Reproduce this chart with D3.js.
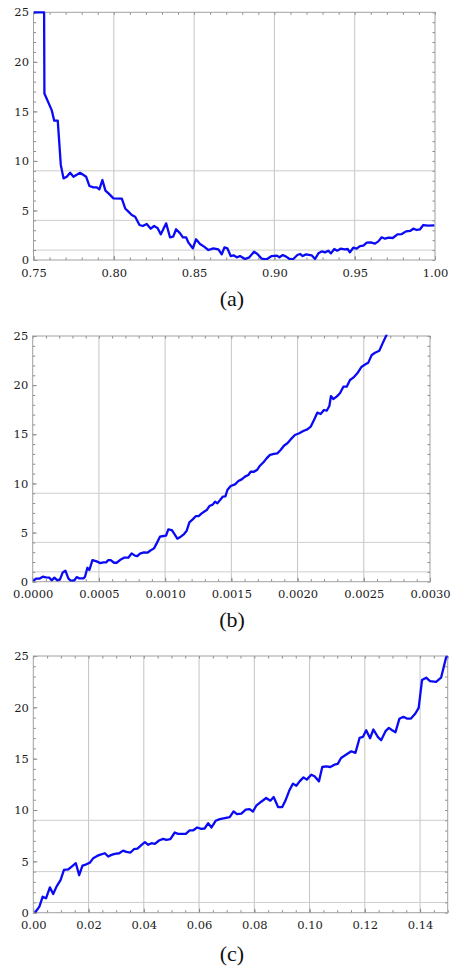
<!DOCTYPE html>
<html>
<head>
<meta charset="utf-8">
<script src="https://cdn.jsdelivr.net/npm/d3@7"></script>
<style>
	body { margin: 0; background: #fff; }
	.tick line { stroke: #8a8a8a; }
</style>
</head>
<body>
<div id="chart"></div>
<script>
// shared y axis values and reference lines
var yTicks = [0, 5, 10, 15, 20, 25];
var refLines = [1, 4, 9];
var tickFont = "'DejaVu Serif', serif";
var capFont = "'Liberation Serif', serif";

// panel (a)
var xTicksA = [0.75, 0.80, 0.85, 0.90, 0.95, 1.00];
var seriesA = [
	[0.7500, 25], [0.7566, 25], [0.7568, 16.8], [0.7614, 15.1], [0.7629, 14.06], [0.7651, 14.06],
	[0.7670, 9.6], [0.7687, 8.24], [0.7707, 8.4], [0.7728, 8.8], [0.7749, 8.4], [0.7790, 8.8],
	[0.7828, 8.4], [0.7848, 7.47], [0.7873, 7.33], [0.7894, 7.33], [0.7910, 7.13], [0.7929, 8.07],
	[0.7948, 7.0], [0.7967, 6.73], [0.7998, 6.22], [0.8050, 6.19], [0.8071, 5.2], [0.8091, 4.88],
	[0.8112, 4.54], [0.8133, 4.37], [0.8160, 3.53], [0.8180, 3.43], [0.8205, 3.63], [0.8230, 3.16],
	[0.8251, 3.43], [0.8272, 3.23], [0.8293, 2.59], [0.8326, 3.7], [0.8350, 2.29], [0.8370, 2.36],
	[0.8388, 3.1], [0.8413, 2.69], [0.8430, 2.29], [0.8450, 2.29], [0.8465, 1.75], [0.8492, 1.18],
	[0.8512, 2.09], [0.8537, 1.62], [0.8562, 1.35], [0.8589, 1.01], [0.8620, 1.18], [0.8651, 1.08],
	[0.8672, 0.57], [0.8689, 1.28], [0.8707, 1.18], [0.8728, 0.4], [0.8745, 0.47], [0.8766, 0.27],
	[0.8786, 0.4], [0.8817, 0.1], [0.8844, 0.27], [0.8873, 0.84], [0.8894, 0.61], [0.8921, 0.13],
	[0.8952, 0.07], [0.8983, 0.4], [0.9015, 0.44], [0.9031, 0.27], [0.9052, 0.5], [0.9073, 0.34],
	[0.9097, 0.07], [0.9118, 0.1], [0.9143, 0.5], [0.9160, 0.61], [0.9176, 0.4], [0.9197, 0.57],
	[0.9232, 0.47], [0.9253, 0.1], [0.9274, 0.67], [0.9295, 0.87], [0.9315, 0.77], [0.9336, 0.94],
	[0.9352, 0.67], [0.9373, 1.11], [0.9391, 0.94], [0.9412, 1.14], [0.9439, 1.08], [0.9456, 1.11],
	[0.9470, 0.77], [0.9491, 1.24], [0.9512, 1.14], [0.9533, 1.41], [0.9554, 1.45], [0.9575, 1.75],
	[0.9599, 1.78], [0.9626, 1.65], [0.9647, 1.88], [0.9668, 2.29], [0.9689, 2.15], [0.9710, 2.25],
	[0.9737, 2.22], [0.9766, 2.59], [0.9793, 2.62], [0.9820, 2.89], [0.9845, 2.93], [0.9865, 3.16],
	[0.9886, 3.03], [0.9907, 3.1], [0.9927, 3.53], [0.9959, 3.47], [0.9996, 3.5]
];

// panel (b)
var xTicksB = [0, 0.0005, 0.0010, 0.0015, 0.0020, 0.0025, 0.0030];
var seriesB = [
	[0.000005, 0.07], [0.000025, 0.31], [0.00005, 0.31], [0.000076, 0.51], [0.0001, 0.44], [0.000126, 0.41],
	[0.000143, 0.14], [0.000164, 0.41], [0.000186, 0.14], [0.000206, 0.24], [0.000227, 0.95], [0.000247, 1.12],
	[0.000269, 0.34], [0.000287, 0.1], [0.000312, 0.1], [0.000332, 0.47], [0.000352, 0.34], [0.000383, 0.34],
	[0.000395, 0.51], [0.000413, 1.42], [0.000428, 1.19], [0.000451, 2.2], [0.000483, 2.07], [0.000508, 1.9],
	[0.000534, 1.97], [0.000554, 1.97], [0.000571, 2.2], [0.000589, 2.2], [0.000614, 1.93], [0.000634, 1.93],
	[0.000659, 2.2], [0.000689, 2.44], [0.000722, 2.44], [0.000747, 2.88], [0.000772, 2.65], [0.00079, 2.61],
	[0.00081, 2.85], [0.00084, 2.99], [0.000866, 2.95], [0.000886, 3.15], [0.000916, 3.39], [0.000936, 3.9],
	[0.000961, 4.58], [0.000987, 4.65], [0.001007, 4.68], [0.001024, 5.33], [0.00105, 5.26], [0.001067, 4.92],
	[0.001092, 4.38], [0.001118, 4.58], [0.001143, 4.85], [0.001163, 5.19], [0.001183, 6.04], [0.001208, 6.34],
	[0.001233, 6.68], [0.001253, 6.68], [0.001276, 6.95], [0.001294, 7.12], [0.001314, 7.29], [0.001334, 7.7],
	[0.001359, 7.84], [0.001377, 8.14], [0.001394, 7.97], [0.001415, 8.31], [0.001435, 8.65], [0.001455, 8.68],
	[0.00147, 9.33], [0.001495, 9.74], [0.001528, 9.9], [0.001553, 10.24], [0.001578, 10.41], [0.001603, 10.69],
	[0.001628, 10.86], [0.001646, 11.19], [0.001671, 11.19], [0.001696, 11.4], [0.001716, 11.8], [0.001746, 12.21],
	[0.001766, 12.55], [0.001792, 12.9], [0.001822, 13.0], [0.001847, 13.06], [0.001872, 13.4], [0.001897, 13.84],
	[0.001923, 14.08], [0.001948, 14.48], [0.00198, 14.93], [0.002013, 15.1], [0.002043, 15.33], [0.002074, 15.5],
	[0.002099, 15.77], [0.002124, 16.45], [0.002149, 17.2], [0.002174, 17.06], [0.002199, 17.47], [0.00222, 17.4],
	[0.00224, 17.88], [0.002252, 18.89], [0.00227, 18.59], [0.002295, 18.83], [0.00232, 19.17], [0.002346, 19.84],
	[0.002371, 19.84], [0.002396, 20.52], [0.002421, 20.76], [0.002451, 21.2], [0.002484, 21.88], [0.002516, 22.15],
	[0.002534, 22.29], [0.00256, 23.07], [0.002585, 23.3], [0.002617, 23.5], [0.002642, 24.25], [0.002668, 25.0],
	[0.002686, 25.6]
];

// panel (c)
var xTicksC = [0, 0.02, 0.04, 0.06, 0.08, 0.10, 0.12, 0.14];
var seriesC = [
	[0.0006, 0], [0.0022, 0.59], [0.0034, 1.56], [0.0046, 1.4], [0.0060, 2.47], [0.0072, 1.82],
	[0.0084, 2.54], [0.0099, 3.19], [0.0111, 4.17], [0.0127, 4.23], [0.0139, 4.49], [0.0154, 4.82],
	[0.0166, 3.65], [0.0178, 4.59], [0.0190, 4.69], [0.0205, 4.88], [0.0217, 5.31], [0.0231, 5.53],
	[0.0243, 5.66], [0.0259, 5.79], [0.0271, 5.47], [0.0283, 5.63], [0.0295, 5.73], [0.0311, 5.79],
	[0.0325, 6.05], [0.0337, 5.92], [0.0352, 5.86], [0.0364, 6.18], [0.0377, 6.25], [0.0392, 6.61],
	[0.0404, 6.87], [0.0416, 6.61], [0.0428, 6.77], [0.0440, 6.71], [0.0455, 7.03], [0.0470, 7.19],
	[0.0482, 7.1], [0.0496, 7.16], [0.0512, 7.81], [0.0524, 7.68], [0.0540, 7.68], [0.0552, 7.68],
	[0.0566, 8.01], [0.0578, 8.01], [0.0593, 8.3], [0.0608, 8.17], [0.0620, 8.2], [0.0633, 8.72],
	[0.0645, 8.3], [0.0660, 8.95], [0.0675, 9.11], [0.0693, 9.21], [0.0711, 9.31], [0.0725, 9.86],
	[0.0737, 9.6], [0.0753, 9.64], [0.0769, 10.03], [0.0783, 10.09], [0.0795, 9.86], [0.0807, 10.42],
	[0.0825, 10.81], [0.0843, 11.17], [0.0858, 10.91], [0.0870, 11.26], [0.0886, 10.29], [0.0901, 10.29],
	[0.0913, 10.94], [0.0928, 11.98], [0.0940, 12.57], [0.0952, 12.37], [0.0964, 12.79], [0.0978, 13.18],
	[0.0990, 12.96], [0.1006, 13.44], [0.1018, 13.28], [0.1034, 12.79], [0.1046, 14.19], [0.1060, 14.26],
	[0.1075, 14.19], [0.1090, 14.42], [0.1102, 14.49], [0.1114, 15.07], [0.1133, 15.4], [0.1151, 15.72],
	[0.1166, 15.56], [0.1181, 17.02], [0.1193, 17.12], [0.1205, 17.77], [0.1219, 16.99], [0.1231, 17.84],
	[0.1247, 17.12], [0.1259, 16.8], [0.1275, 17.68], [0.1287, 18.0], [0.1299, 17.77], [0.1311, 17.58],
	[0.1325, 18.88], [0.1340, 19.08], [0.1352, 18.91], [0.1367, 18.91], [0.1383, 19.4], [0.1395, 19.95],
	[0.1407, 22.66], [0.1422, 22.89], [0.1436, 22.56], [0.1458, 22.49], [0.1476, 22.89], [0.1494, 24.84],
	[0.1500, 25.0]
];

var panels = [
	{ id: "a", label: "(a)", data: seriesA, xTicks: xTicksA, xDom: [0.75, 1.0], minor: 25, fmt: ".2f",
		left: 33.5, right: 435, top: 12.3, bottom: 260, labelY: 306 },
	{ id: "b", label: "(b)", data: seriesB, xTicks: xTicksB, xDom: [0, 0.003], minor: 30, fmt: ".4f",
		left: 32.7, right: 430, top: 336, bottom: 581.7, labelY: 627 },
	{ id: "c", label: "(c)", data: seriesC, xTicks: xTicksC, xDom: [0, 0.15], minor: 30, fmt: ".2f",
		left: 33.3, right: 447.7, top: 656, bottom: 912.7, labelY: 961 }
];

var svg = d3.select("#chart").append("svg")
	.attr("width", 452).attr("height", 971);

panels.forEach(drawPanel);

function drawPanel(p) {
	var xSc = d3.scaleLinear().domain(p.xDom).range([p.left, p.right]);
	var ySc = d3.scaleLinear().domain([0, 25]).range([p.bottom, p.top]);
	var g = svg.append("g").attr("class", "panel-" + p.id);

	// vertical grid at interior major ticks
	g.append("g").selectAll("line")
		.data(p.xTicks.filter(function(d) { return xSc(d) > p.left + 1 && xSc(d) < p.right - 1; }))
		.enter().append("line")
		.attr("x1", function(d) { return xSc(d); }).attr("x2", function(d) { return xSc(d); })
		.attr("y1", p.top).attr("y2", p.bottom)
		.attr("stroke", "#c4c4c4").attr("stroke-width", 1);

	// horizontal reference lines
	g.append("g").selectAll("line")
		.data(refLines).enter().append("line")
		.attr("x1", p.left).attr("x2", p.right)
		.attr("y1", function(d) { return ySc(d); }).attr("y2", function(d) { return ySc(d); })
		.attr("stroke", "#cdcdcd").attr("stroke-width", 1);

	// minor ticks on all four sides
	var xMinor = xSc.ticks(p.minor), yMinor = ySc.ticks(25);
	g.append("g").attr("transform", "translate(0," + p.bottom + ")")
		.call(d3.axisBottom(xSc).tickValues(xMinor).tickFormat("").tickSizeInner(-2.5).tickSizeOuter(0));
	g.append("g").attr("transform", "translate(0," + p.top + ")")
		.call(d3.axisTop(xSc).tickValues(xMinor).tickFormat("").tickSizeInner(-2.5).tickSizeOuter(0));
	g.append("g").attr("transform", "translate(" + p.left + ",0)")
		.call(d3.axisLeft(ySc).tickValues(yMinor).tickFormat("").tickSizeInner(-2.5).tickSizeOuter(0));
	g.append("g").attr("transform", "translate(" + p.right + ",0)")
		.call(d3.axisRight(ySc).tickValues(yMinor).tickFormat("").tickSizeInner(-2.5).tickSizeOuter(0));

	// labelled axes
	g.append("g").attr("transform", "translate(0," + p.bottom + ")")
		.call(d3.axisBottom(xSc).tickValues(p.xTicks).tickFormat(d3.format(p.fmt))
			.tickSizeInner(-4).tickSizeOuter(0).tickPadding(8.5));
	g.append("g").attr("transform", "translate(" + p.left + ",0)")
		.call(d3.axisLeft(ySc).tickValues(yTicks).tickSizeInner(-4).tickSizeOuter(0).tickPadding(4.5));
	g.selectAll(".domain").remove();
	g.selectAll(".tick text")
		.style("font-family", tickFont).style("font-size", "11.5px").style("fill", "#1a1a1a");

	// frame
	g.append("rect")
		.attr("x", p.left).attr("y", p.top)
		.attr("width", p.right - p.left).attr("height", p.bottom - p.top)
		.attr("fill", "none").attr("stroke", "#a0a0a0").attr("stroke-width", 1);

	// data line, clipped to the plot box
	var clipId = "clip-" + p.id;
	g.append("clipPath").attr("id", clipId).append("rect")
		.attr("x", p.left).attr("y", p.top - 1.2)
		.attr("width", p.right - p.left).attr("height", p.bottom - p.top + 1.2);

	var line = d3.line()
		.x(function(d) { return xSc(d[0]); })
		.y(function(d) { return ySc(d[1]); });

	g.append("path").datum(p.data)
		.attr("clip-path", "url(#" + clipId + ")")
		.attr("d", line)
		.attr("fill", "none")
		.attr("stroke", "#0a0af5")
		.attr("stroke-width", 2.3)
		.attr("stroke-linejoin", "round");

	// panel caption
	svg.append("text")
		.attr("x", 232).attr("y", p.labelY)
		.attr("text-anchor", "middle")
		.style("font-family", capFont)
		.style("font-size", "22px")
		.style("fill", "#111")
		.text(p.label);
}
</script>
</body>
</html>
